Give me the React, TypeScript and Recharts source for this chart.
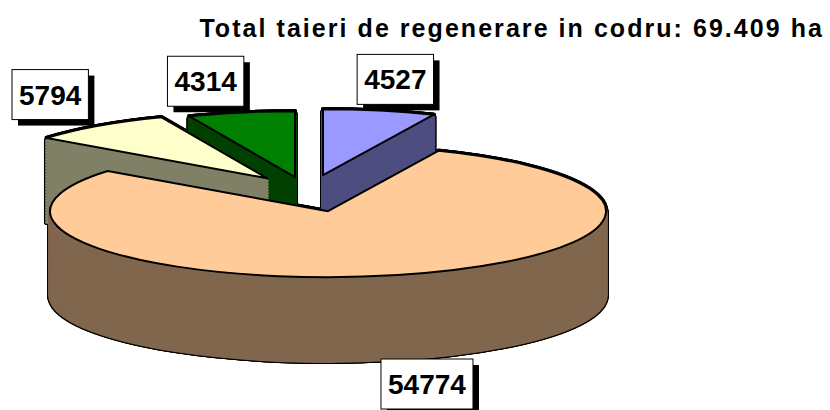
import React from 'react';
import { PieChart, Pie, Cell } from 'recharts';

const categories = ['Categoria 1', 'Categoria 2', 'Categoria 3', 'Categoria 4'];
const values = [4527, 54774, 5794, 4314];
const title = 'Total taieri de regenerare in codru: 69.409 ha';

const data = categories.map((name, i) => ({ name, value: values[i] }));

// look of the 3d pie
const topColors = ['#9999FF', '#FFCC99', '#FFFFCC', '#008000'];
const sideColors = ['#4D4D80', '#80664D', '#808066', '#004000'];
const explode = [[-5, -36], [0, 0], [-61, -33], [-33, -34]];
const drawOrder = [3, 0, 2, 1];

const W = 830;
const H = 410;
const CX = 323;
const CY = 210;
const RX = 278;
const RY = 66;
const DEPTH = 84;
const K = RY / RX;
const LAYERS = 28;
const FAR_SHIFT = -10; // far side leans left a bit (perspective)
const FONT = '"Liberation Sans", Arial, sans-serif';

const css = `
body { margin: 0; }
.body3d .recharts-pie { transform: scaleY(${K}); transform-origin: 0 0; }
.body3d path { vector-effect: non-scaling-stroke; }
`;

function slicePies(s: number) {
  const [dx, dy] = explode[s];
  const pies = [];
  for (let l = LAYERS; l >= 1; l--) {
    const off = (DEPTH * l) / LAYERS;
    pies.push(
      <Pie
        key={`side-${s}-${l}`}
        data={data}
        dataKey="value"
        cx={CX + dx}
        cy={(CY + dy + off) / K}
        outerRadius={RX}
        startAngle={90}
        endAngle={-270}
        isAnimationActive={false}
      >
        {data.map((_, i) => (
          <Cell
            key={i}
            fill={i === s ? sideColors[s] : 'none'}
            stroke={i === s ? sideColors[s] : 'none'}
            strokeWidth={3.5}
            strokeLinejoin="round"
          />
        ))}
      </Pie>
    );
  }
  pies.push(
    <Pie
      key={`top-${s}`}
      data={data}
      dataKey="value"
      cx={CX + dx}
      cy={(CY + dy) / K}
      outerRadius={RX}
      startAngle={90}
      endAngle={-270}
      isAnimationActive={false}
    >
      {data.map((_, i) => (
        <Cell
          key={i}
          fill={i === s ? topColors[s] : 'none'}
          stroke={i === s ? '#000' : 'none'}
          strokeWidth={2}
          strokeLinejoin="round"
        />
      ))}
    </Pie>
  );
  return pies;
}

// label box sits just outside the slice edge, pushed to stay inside the chart
const renderLabel = (p: any) => {
  const i = p.index;
  const a = (p.midAngle * Math.PI) / 180;
  const cos = Math.cos(a);
  const sin = Math.sin(a);
  const [dx, dy] = explode[i];
  const text = String(values[i]);
  const bw = text.length * 15.6 + 14;
  const bh = 50;
  const ex = p.cx + dx + RX * cos;
  const ey = p.cy + dy - RY * sin + (sin < 0 ? DEPTH : 0);
  let x = ex + (cos * bw) / 2 + Math.sign(cos) * 18 + (sin > 0 ? FAR_SHIFT : 0);
  let y = ey - Math.sign(sin) * 35;
  x = Math.max(bw / 2 + 12, Math.min(W - bw / 2 - 12, x));
  y = Math.max(bh / 2 + 2, Math.min(H - bh / 2 - 1, y));
  return (
    <g key={`lbl-${i}`}>
      <rect x={x - bw / 2 + 6} y={y - bh / 2 + 6} width={bw} height={bh} fill="#000" />
      <rect x={x - bw / 2} y={y - bh / 2} width={bw} height={bh} fill="#fff" stroke="#000" strokeWidth={1} />
      <text
        x={x}
        y={y + 10}
        textAnchor="middle"
        fontFamily={FONT}
        fontWeight="bold"
        fontSize={28}
        fill="#000"
      >
        {text}
      </text>
    </g>
  );
};

export default function App() {
  return (
    <div style={{ position: 'relative', width: W, height: H, background: '#fff', overflow: 'hidden' }}>
      <style>{css}</style>
      <div
        className="body3d"
        style={{
          position: 'absolute',
          left: 0,
          top: 0,
          filter:
            'drop-shadow(1px 0 0 #000) drop-shadow(-1px 0 0 #000) drop-shadow(0 1px 0 #000) drop-shadow(0 -1px 0 #000)',
        }}
      >
        <PieChart width={W} height={H}>
          {drawOrder.flatMap((s) => slicePies(s))}
        </PieChart>
      </div>
      <div style={{ position: 'absolute', left: 0, top: 0 }}>
        <PieChart width={W} height={H}>
          <Pie
            data={data}
            dataKey="value"
            cx={CX}
            cy={CY}
            outerRadius={2}
            startAngle={90}
            endAngle={-270}
            fill="none"
            stroke="none"
            labelLine={false}
            label={renderLabel}
            isAnimationActive={false}
          />
        </PieChart>
      </div>
      <div
        style={{
          position: 'absolute',
          right: 6,
          top: 16,
          fontFamily: FONT,
          fontWeight: 'bold',
          fontSize: 25,
          lineHeight: '25px',
          letterSpacing: 2.05,
          whiteSpace: 'nowrap',
          color: '#000',
        }}
      >
        {title}
      </div>
    </div>
  );
}
